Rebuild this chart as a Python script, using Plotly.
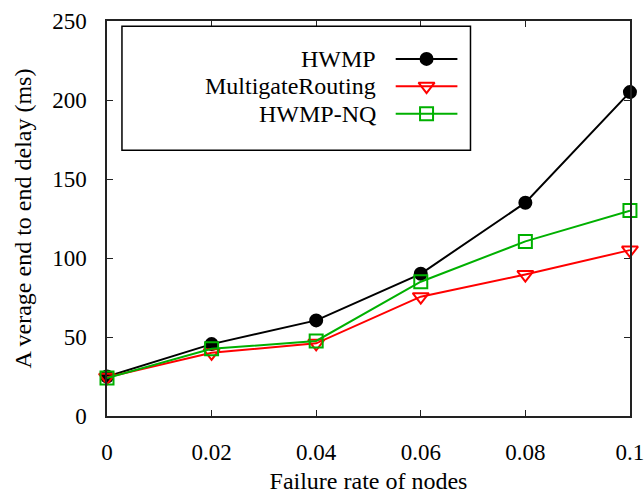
import plotly.graph_objects as go

failure_rate = [0, 0.02, 0.04, 0.06, 0.08, 0.1]
hwmp = [25, 45.5, 60.5, 90, 135, 205]
multigate = [24.5, 40, 46, 75.5, 89.5, 105]
hwmp_nq = [24, 42.5, 47.5, 85, 110.5, 130]

series_names = ["HWMP", "MultigateRouting", "HWMP-NQ"]
series_values = [hwmp, multigate, hwmp_nq]
colors = ["#000000", "#ff0000", "#00b000"]
symbols = ["circle", "triangle-down-open", "square-open"]
marker_sizes = [12, 14, 13]

x_ticks = [0, 0.02, 0.04, 0.06, 0.08, 0.1]
x_ticktext = ["0", "0.02", "0.04", "0.06", "0.08", "0.1"]
y_ticks = [0, 50, 100, 150, 200, 250]

FONT = "Liberation Serif, Times New Roman, serif"

fig = go.Figure()
for name, vals, c, s, ms in zip(series_names, series_values, colors, symbols, marker_sizes):
    fig.add_trace(go.Scatter(
        x=failure_rate, y=vals, mode="lines+markers", name=name,
        line=dict(color=c, width=2),
        marker=dict(symbol=s, size=ms, color=c, line=dict(color=c, width=2)),
        showlegend=False, cliponaxis=False,
    ))

# custom legend (text left of sample, as in reference)
legend_rows = [0.904, 0.835, 0.765]
for name, c, s, ms, yy in zip(series_names, colors, symbols, marker_sizes, legend_rows):
    fig.add_trace(go.Scatter(
        x=[0.552, 0.611, 0.670], y=[yy, yy, yy], mode="lines",
        line=dict(color=c, width=2), xaxis="x2", yaxis="y2",
        showlegend=False, hoverinfo="skip",
    ))
    fig.add_trace(go.Scatter(
        x=[0.611], y=[yy], mode="markers",
        marker=dict(symbol=s, size=ms, color=c, line=dict(color=c, width=2)),
        xaxis="x2", yaxis="y2", showlegend=False, hoverinfo="skip",
    ))
    fig.add_annotation(x=0.518, y=yy, xref="paper", yref="paper", text=name,
                       showarrow=False, xanchor="right", yanchor="middle",
                       font=dict(family=FONT, size=24, color="black"))

fig.add_shape(type="rect", xref="paper", yref="paper",
              x0=0.0286, x1=0.695, y0=0.673, y1=0.987,
              line=dict(color="black", width=1.5), fillcolor="rgba(0,0,0,0)")

axis_common = dict(showline=True, linecolor="#222", linewidth=1.5, mirror="ticks",
                   ticks="inside", ticklen=6, tickcolor="#222", tickwidth=1,
                   showgrid=False, zeroline=False, automargin=False,
                   ticklabeloverflow="allow",
                   tickfont=dict(family=FONT, size=23, color="black"))

fig.update_layout(
    width=644, height=494,
    margin=dict(l=107, r=14, t=21, b=78),
    paper_bgcolor="white", plot_bgcolor="white",
    font=dict(family=FONT, color="black"),
    xaxis=dict(range=[0, 0.10001], tickvals=x_ticks, ticktext=x_ticktext,
               ticklabelstandoff=15,
               title=dict(text="Failure rate of nodes", font=dict(family=FONT, size=24), standoff=19),
               **axis_common),
    yaxis=dict(range=[0, 250], tickvals=y_ticks, ticklabelstandoff=14,
               title=dict(text="A verage end to end delay (ms)", font=dict(family=FONT, size=24), standoff=14),
               **axis_common),
    xaxis2=dict(range=[0, 1], overlaying="x", visible=False),
    yaxis2=dict(range=[0, 1], overlaying="y", visible=False),
)

fig.write_html("out.html")
